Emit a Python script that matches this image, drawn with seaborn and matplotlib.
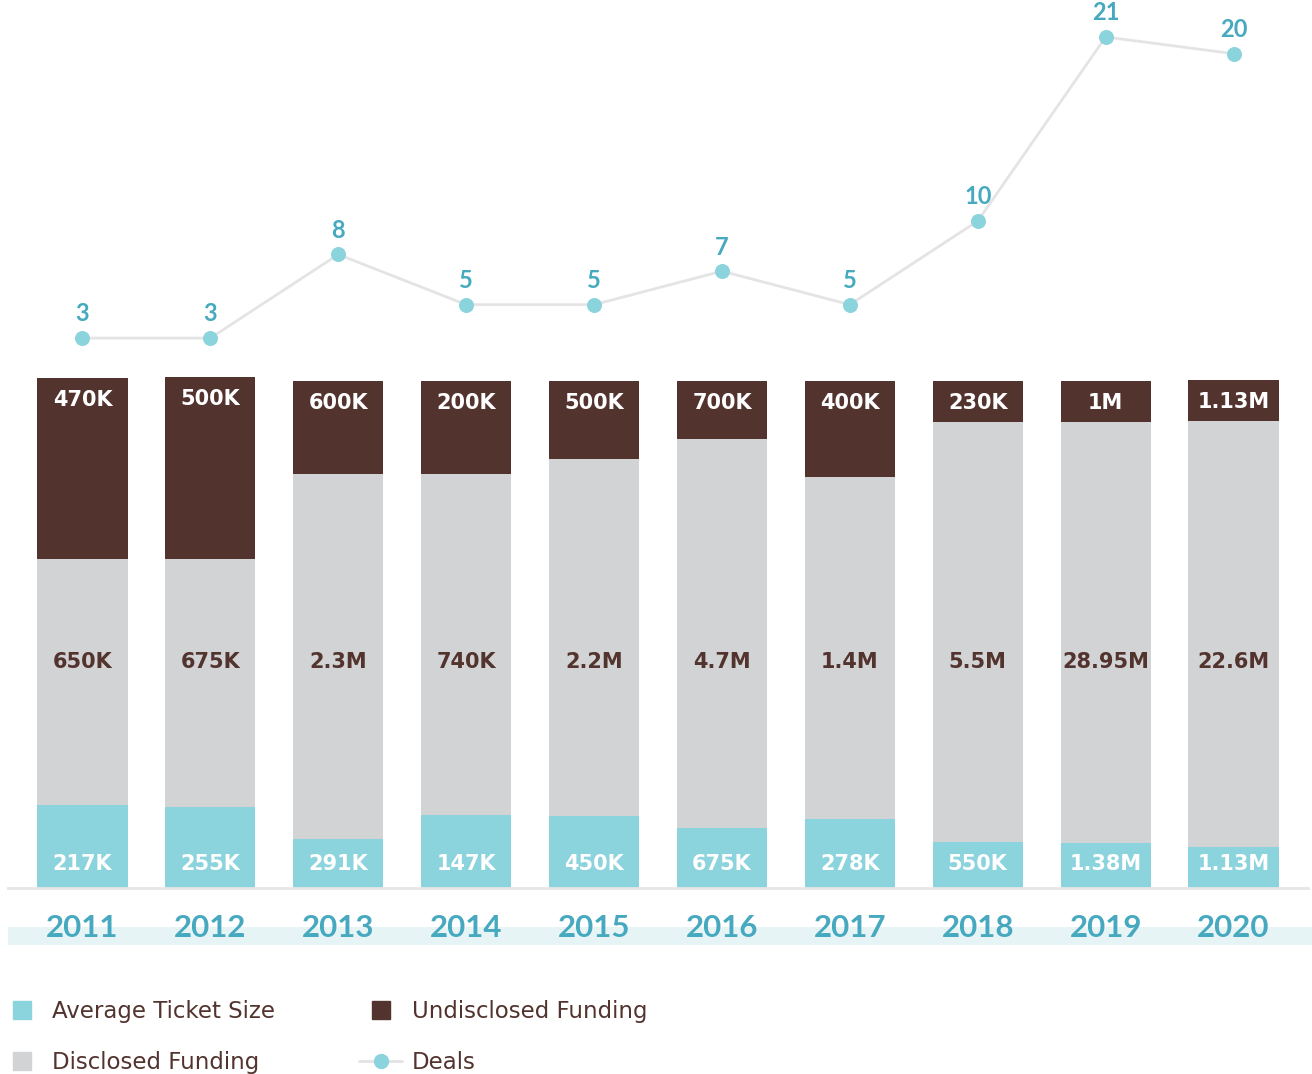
import numpy as np
import pandas as pd
import matplotlib
matplotlib.use("Agg")
import matplotlib.pyplot as plt
from matplotlib.lines import Line2D
from matplotlib.patches import Rectangle
import seaborn as sns

# ---------------- data ----------------
years = ["2011", "2012", "2013", "2014", "2015", "2016", "2017", "2018", "2019", "2020"]
deals = [3, 3, 8, 5, 5, 7, 5, 10, 21, 20]

ticket_labels = ["217K", "255K", "291K", "147K", "450K", "675K", "278K", "550K", "1.38M", "1.13M"]
disclosed_labels = ["650K", "675K", "2.3M", "740K", "2.2M", "4.7M", "1.4M", "5.5M", "28.95M", "22.6M"]
undisclosed_labels = ["470K", "500K", "600K", "200K", "500K", "700K", "400K", "230K", "1M", "1.13M"]

# relative visual heights of the stacked segments (as drawn in the chart)
ticket_h = [83, 81, 49, 73, 72, 60, 69, 46, 45, 41]
disclosed_h = [246, 248, 365, 341, 357, 389, 342, 420, 421, 426]
undisclosed_h = [181, 182, 93, 93, 78, 58, 96, 41, 41, 41]

# ---------------- styles ----------------
TEAL = "#8bd3dd"
GRAY = "#d2d3d5"
BROWN = "#52332e"
YEAR_TEAL = "#47a9bf"
BAND = "#e7f4f6"
LINE_GRAY = "#e4e4e4"
ACCENT_FONT = ["Lato", "DejaVu Sans"]

sns.set_theme(style="white")
plt.rcParams["font.family"] = ["DejaVu Sans"]

W, H = 1312, 1074
fig = plt.figure(figsize=(W / 100, H / 100), dpi=100)
fig.patch.set_facecolor("white")

ax_left, ax_right = 8, 1308
ax_bottom_px = 888
ax = fig.add_axes([ax_left / W, (H - ax_bottom_px) / H, (ax_right - ax_left) / W, ax_bottom_px / H])
ax.set_facecolor("none")

df = pd.DataFrame({
    "year": years,
    "ticket": ticket_h,
    "disclosed": disclosed_h,
    "undisclosed": undisclosed_h,
})
df["c1"] = df["ticket"]
df["c2"] = df["ticket"] + df["disclosed"]
df["c3"] = df["c2"] + df["undisclosed"]

bw = 0.706
sns.barplot(data=df, x="year", y="c3", color=BROWN, saturation=1, width=bw, linewidth=0, ax=ax)
sns.barplot(data=df, x="year", y="c2", color=GRAY, saturation=1, width=bw, linewidth=0, ax=ax)
sns.barplot(data=df, x="year", y="c1", color=TEAL, saturation=1, width=bw, linewidth=0, ax=ax)

ax.set_xlim(-0.582, 9.582)
ax.set_ylim(0, ax_bottom_px)
ax.set_xlabel("")
ax.set_ylabel("")
ax.set_yticks([])
for s in ["left", "top", "right"]:
    ax.spines[s].set_visible(False)
ax.spines["bottom"].set_color("#e6e6e6")
ax.spines["bottom"].set_linewidth(2)
ax.tick_params(axis="x", length=0, pad=19, labelsize=22.5, labelcolor=YEAR_TEAL)
for t in ax.get_xticklabels():
    t.set_fontfamily(ACCENT_FONT)
    t.set_fontweight("bold")

# segment labels
for i, y in enumerate(years):
    ax.text(y, df["c3"][i] - 28, undisclosed_labels[i], ha="center", va="baseline",
            color="white", fontsize=15, fontweight="bold")
    ax.text(y, 220, disclosed_labels[i], ha="center", va="baseline",
            color=BROWN, fontsize=15, fontweight="bold")
    ax.text(y, 18, ticket_labels[i], ha="center", va="baseline",
            color="white", fontsize=15, fontweight="bold")

# deals line on twin axis
ax2 = ax.twinx()
ax2.set_facecolor("none")
slope, intercept = 16.73, 499.7
ax2.set_ylim(-intercept / slope, (ax_bottom_px - intercept) / slope)
sns.lineplot(x=years, y=deals, ax=ax2, color=LINE_GRAY, linewidth=2, marker="o",
             markersize=10, markerfacecolor=TEAL, markeredgecolor=TEAL, sort=False)
ax2.set_xlim(-0.582, 9.582)
ax2.set_yticks([])
ax2.set_ylabel("")
for s in ["left", "top", "right", "bottom"]:
    ax2.spines[s].set_visible(False)
for i, y in enumerate(years):
    ax2.annotate(str(deals[i]), (y, deals[i]), xytext=(0, 12), textcoords="offset points",
                 ha="center", va="baseline", color=YEAR_TEAL, fontsize=17,
                 fontfamily=ACCENT_FONT, fontweight="bold")

# light band behind year labels
fig.patches.append(Rectangle((8 / W, (H - 945) / H), 1304 / W, 18 / H,
                             transform=fig.transFigure, facecolor=BAND,
                             edgecolor="none", zorder=-1))

# legend
handles = [
    Line2D([], [], marker="s", markersize=13, color=TEAL, linestyle="none"),
    Line2D([], [], marker="s", markersize=13, color=GRAY, linestyle="none"),
    Line2D([], [], marker="s", markersize=13, color=BROWN, linestyle="none"),
    Line2D([], [], marker="o", markersize=10, color=LINE_GRAY, linewidth=2,
           markerfacecolor=TEAL, markeredgecolor=TEAL),
]
labels = ["Average Ticket Size", "Disclosed Funding", "Undisclosed Funding", "Deals"]
fig.legend(handles, labels, ncol=2, loc="upper left", bbox_to_anchor=(0.0, 0.069),
           frameon=False, fontsize=16.5, labelcolor=BROWN, handlelength=1.88,
           handletextpad=0.41, columnspacing=3.65, labelspacing=1.24,
           borderaxespad=0, borderpad=0, numpoints=1)

fig.savefig("out.png", dpi=100, facecolor="white")
